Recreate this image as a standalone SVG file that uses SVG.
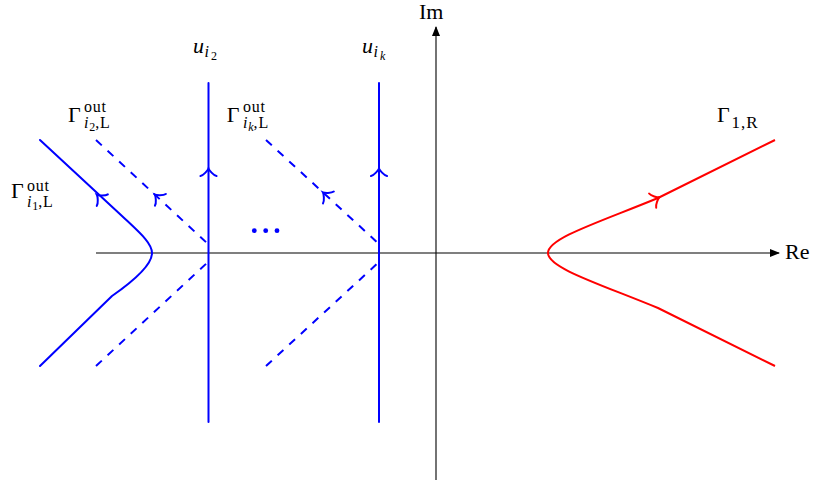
<svg xmlns="http://www.w3.org/2000/svg" width="818" height="484" viewBox="0 0 818 484">
<style>
.ax{stroke:#000;stroke-width:1.1;fill:none}
.bl{stroke:#0000ff;stroke-width:2;fill:none;stroke-linecap:round;stroke-linejoin:round}
.dash{stroke-dasharray:7.9 7.9;stroke-linecap:butt}
.rd{stroke:#ff0000;stroke-width:2;fill:none;stroke-linejoin:round}
text{font-family:"Liberation Serif","Times New Roman",serif;fill:#000}
.m{font-size:22px}
.s{font-size:16px;letter-spacing:0.8px}
.ss{font-size:12px;letter-spacing:0}
.it{font-style:italic}
</style>
<defs>
<path id="tip" d="M-6,8 C-5.5,5 0,0.5 1.5,0 C0,-0.5 -5.5,-5 -6,-8" fill="none" stroke-width="2" stroke-linecap="round"/>
<marker id="ah" viewBox="0 0 10 8" refX="9" refY="4" markerWidth="10" markerHeight="8" markerUnits="userSpaceOnUse" orient="auto">
<path d="M0,0 L10,4 L0,8 Z" fill="#000"/>
</marker>
</defs>
<g id="axes">
<line class="ax" x1="96" y1="253" x2="779" y2="253" marker-end="url(#ah)"/>
<line class="ax" x1="436" y1="480" x2="436" y2="27" marker-end="url(#ah)"/>
<text class="m" x="785" y="259">Re</text>
<text class="m" x="419" y="19">Im</text>
</g>
<g id="connectors">
<g id="u-i2">
<line class="bl" x1="208.5" y1="83" x2="208.5" y2="422"/>
<use href="#tip" stroke="#0000ff" transform="translate(208.5,170) rotate(-90)"/>
</g>
<g id="u-ik">
<line class="bl" x1="379" y1="83" x2="379" y2="422"/>
<use href="#tip" stroke="#0000ff" transform="translate(379,170) rotate(-90)"/>
</g>
<g id="gamma-i1">
<path class="bl" d="M40,140 L122,216 C140,233 152,243 152,253 C152,265 135,280 112,296 L40,366"/>
<use href="#tip" stroke="#0000ff" transform="translate(98,196) rotate(-136)"/>
</g>
<g id="gamma-i2">
<line class="bl dash" x1="96" y1="140" x2="208" y2="244"/>
<line class="bl dash" x1="96" y1="366" x2="208" y2="262"/>
<use href="#tip" stroke="#0000ff" transform="translate(156,195.7) rotate(-137)"/>
</g>
<g id="gamma-ik">
<line class="bl dash" x1="266" y1="140" x2="379" y2="244"/>
<line class="bl dash" x1="266" y1="366" x2="379" y2="262"/>
<use href="#tip" stroke="#0000ff" transform="translate(324,193.4) rotate(-137.4)"/>
</g>
<g id="gamma-1R">
<path class="rd" d="M775,140 L658,198 C600,222 548,238 548,253 C548,268 600,284 658,308 L775,366"/>
<use href="#tip" stroke="#ff0000" transform="translate(658,198) rotate(-26.4)"/>
</g>
</g>
<g id="dots" fill="#0000ff">
<circle cx="254.3" cy="230.7" r="2.4"/>
<circle cx="265.7" cy="230.7" r="2.4"/>
<circle cx="277" cy="230.7" r="2.4"/>
</g>
<g id="label-u-i2">
<text class="m it" x="193" y="53">u</text>
<text class="s it" x="204.5" y="57">i</text>
<text class="ss" x="211" y="60">2</text>
</g>
<g id="label-u-ik">
<text class="m it" x="362" y="53">u</text>
<text class="s it" x="373.5" y="57">i</text>
<text class="ss it" x="380" y="60">k</text>
</g>
<g id="label-gamma-i1">
<text class="m" x="11" y="198">Γ</text>
<text class="s" x="27" y="190.5">out</text>
<text class="s" y="207"><tspan class="it" x="27">i</tspan><tspan class="ss" dy="2.5">1</tspan><tspan dy="-2.5">,L</tspan></text>
</g>
<g id="label-gamma-i2">
<text class="m" x="68" y="121.7">Γ</text>
<text class="s" x="84" y="111.7">out</text>
<text class="s" y="128.3"><tspan class="it" x="84">i</tspan><tspan class="ss" dy="2.5">2</tspan><tspan dy="-2.5">,L</tspan></text>
</g>
<g id="label-gamma-ik">
<text class="m" x="226.7" y="121.7">Γ</text>
<text class="s" x="243" y="111.7">out</text>
<text class="s" y="128.3"><tspan class="it" x="243">i</tspan><tspan class="ss it" dy="2.5">k</tspan><tspan dy="-2.5">,L</tspan></text>
</g>
<g id="label-gamma-1R">
<text class="m" x="717" y="121.7">Γ</text>
<text class="s" x="731.5" y="128.3" style="font-size:17px;letter-spacing:1px">1,R</text>
</g>
</svg>
